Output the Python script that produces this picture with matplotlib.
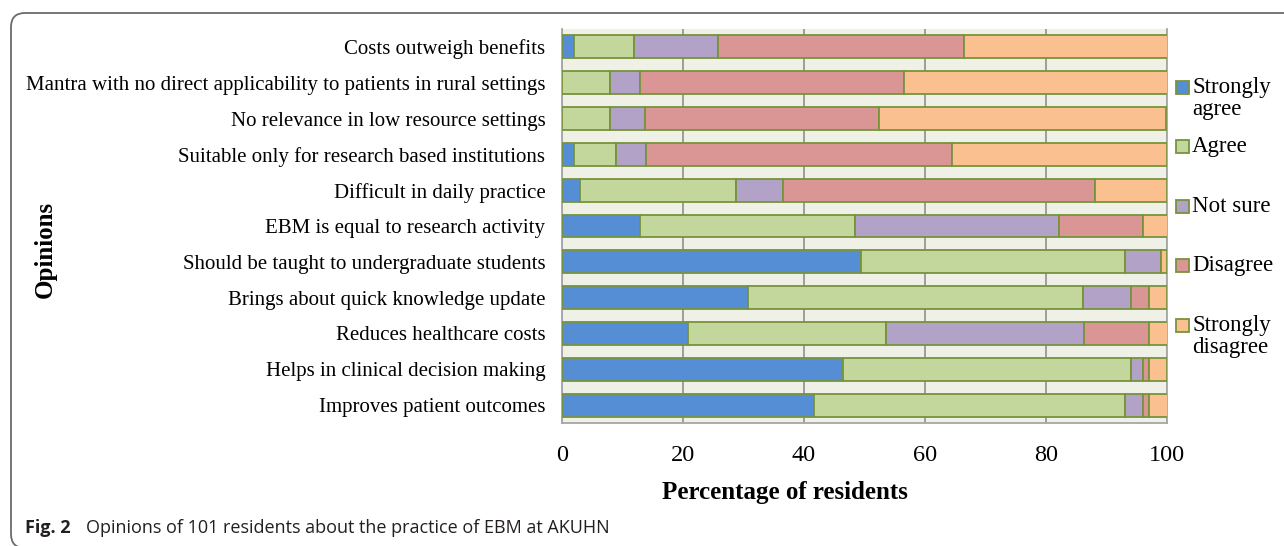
import matplotlib
matplotlib.use("Agg")
import matplotlib.pyplot as plt
from matplotlib.patches import FancyBboxPatch, Rectangle
from matplotlib.transforms import IdentityTransform
import numpy as np

SERIF = "Liberation Serif"
plt.rcParams["font.family"] = [SERIF, "DejaVu Serif"]

# Statements, listed top to bottom
opinions = [
    "Costs outweigh benefits",
    "Mantra with no direct applicability to patients in rural settings",
    "No relevance in low resource settings",
    "Suitable only for research based institutions",
    "Difficult in daily practice",
    "EBM is equal to research activity",
    "Should be taught to undergraduate students",
    "Brings about quick knowledge update",
    "Reduces healthcare costs",
    "Helps in clinical decision making",
    "Improves patient outcomes",
]

# Percentage of residents giving each response
strongly_agree = [2.0, 0.0, 0.0, 2.0, 3.0, 12.9, 49.5, 30.7, 20.8, 46.5, 41.6]
agree = [9.9, 7.9, 7.9, 6.9, 25.7, 35.6, 43.6, 55.4, 32.7, 47.5, 51.5]
not_sure = [13.9, 5.0, 5.9, 5.0, 7.9, 33.7, 5.9, 7.9, 32.7, 2.0, 3.0]
disagree = [40.6, 43.6, 38.6, 50.5, 51.5, 13.9, 0.0, 3.0, 10.9, 1.0, 1.0]
strongly_disagree = [33.7, 43.6, 47.5, 35.6, 11.9, 4.0, 1.0, 3.0, 3.0, 3.0, 3.0]

series_labels = ["Strongly\nagree", "Agree", "Not sure", "Disagree", "Strongly\ndisagree"]
series_values = [strongly_agree, agree, not_sure, disagree, strongly_disagree]
series_colors = ["#558ed5", "#c3d69b", "#b3a2c7", "#d99694", "#fac090"]

x_ticks = [0, 20, 40, 60, 80, 100]
x_title = "Percentage of residents"
y_title = "Opinions"
caption_tag = "Fig. 2"
caption_text = "Opinions of 101 residents about the practice of EBM at AKUHN"

EDGE = "#77933c"

W, H = 1284, 546
fig = plt.figure(figsize=(W / 100, H / 100), dpi=100)
fig.patch.set_facecolor("white")

# Rounded panel frame (open to the right and bottom)
frame = FancyBboxPatch((11, H - 548), 1400, 548 - 13,
                       boxstyle="round,pad=0,rounding_size=14",
                       transform=IdentityTransform(), facecolor="none",
                       edgecolor="#6b6b6b", linewidth=1.3)
fig.patches.append(frame)

left, right, top, bottom = 562, 1167, 29, 423
ax = fig.add_axes([left / W, 1 - bottom / H, (right - left) / W, (bottom - top) / H])
ax.set_facecolor("#eff1e7")

y = np.arange(len(opinions))
cum = np.zeros(len(opinions))
for vals, col in zip(series_values, series_colors):
    vals = np.asarray(vals)
    ax.barh(y, vals, left=cum, height=0.64, color=col, edgecolor=EDGE,
            linewidth=1.3, zorder=3)
    cum += vals

ax.set_xlim(0, 100)
ax.set_ylim(len(opinions) - 0.5, -0.5)
ax.set_xticks(x_ticks)
ax.set_xticklabels([str(t) for t in x_ticks], fontsize=17.5)
ax.set_yticks(y)
ax.set_yticklabels(opinions, fontsize=15)
ax.tick_params(axis="x", length=0, pad=16)
ax.tick_params(axis="y", length=0, pad=12)
ax.xaxis.grid(True, color="#8f8f8f", linewidth=1.2, zorder=0)
ax.set_axisbelow(True)
for side in ("left", "right", "bottom"):
    ax.spines[side].set_color("#a6a6a6")
    ax.spines[side].set_linewidth(1.3)
ax.spines["top"].set_visible(False)

# Axis titles
fig.text(785 / W, 1 - 492 / H, x_title, ha="center", va="center",
         fontsize=18, fontweight="bold")
fig.text(45 / W, 1 - 249 / H, y_title, ha="center", va="center", rotation=90,
         fontsize=18, fontweight="bold")

# Legend
for i, (lab, col) in enumerate(zip(series_labels, series_colors)):
    yc = 87 + 59.5 * i
    fig.patches.append(Rectangle((1176, H - yc - 6.5), 13, 13,
                                 transform=IdentityTransform(),
                                 facecolor=col, edgecolor=EDGE, linewidth=1.3))
    for k, line in enumerate(lab.split("\n")):
        fig.text(1192 / W, 1 - (yc + 23 * k) / H, line, ha="left", va="center",
                 fontsize=16.5, family=SERIF)

# Caption
fig.canvas.draw()
r = fig.canvas.get_renderer()
t1 = fig.text(25 / W, 1 - 528 / H, caption_tag, ha="left", va="center",
              fontsize=13, fontweight="bold", family="Open Sans", color="#231f20")
bb = t1.get_window_extent(renderer=r)
fig.text((bb.x1 + 15) / W, 1 - 528 / H, caption_text,
         ha="left", va="center", fontsize=13, family="Open Sans", color="#231f20")

fig.savefig("out.png", dpi=100)
